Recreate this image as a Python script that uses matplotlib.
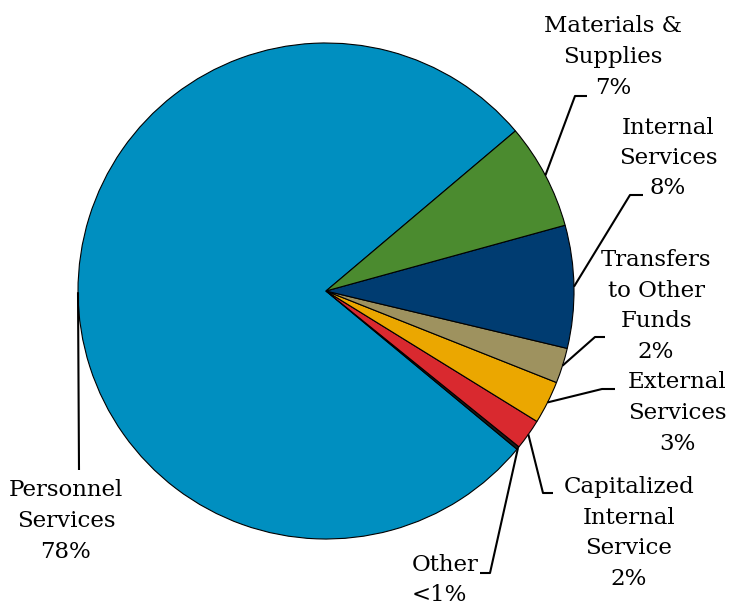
import numpy as np
import matplotlib.pyplot as plt

categories = ['Personnel\nServices', 'Other', 'Capitalized\nInternal\nService',
              'External\nServices', 'Transfers\nto Other\nFunds', 'Internal\nServices',
              'Materials &\nSupplies']
shares = [77.9, 0.2, 2.0, 2.8, 2.3, 8.0, 6.9]
colors = ['#008FC0', '#1A1A1A', '#D9292F', '#EBA700', '#9E925F', '#003C71', '#4B8B2F']

# label block centre, elbow of the leader line, end of the leader line
label_xy = [(66, 84), (412, 25), (629, 72), (677, 192), (656, 299), (668, 447), (613, 548)]
elbow_xy = [(79, 135), (490, 32), (543, 112), (602, 216), (595, 268), (630, 410), (575, 509)]
end_xy = [(79, 135), (480, 32), (553, 112), (615, 216), (605, 268), (643, 410), (587, 509)]


def pct_text(v):
    return '<1%' if v < 1 else f'{round(v)}%'


fig = plt.figure(figsize=(7.47, 6.05), dpi=100)
ax = fig.add_axes([0, 0, 1, 1])

cx, cy, r = 326, 314, 248
wedges, _ = ax.pie(shares, colors=colors, startangle=40.2, center=(cx, cy), radius=r,
                   wedgeprops=dict(edgecolor='black', linewidth=0.8), frame=True)
ax.set_xlim(0, 747)
ax.set_ylim(0, 605)
ax.set_aspect('equal')
ax.axis('off')

for i, w in enumerate(wedges):
    mid = np.deg2rad((w.theta1 + w.theta2) / 2)
    sx, sy = cx + r * np.cos(mid), cy + r * np.sin(mid)
    ex, ey = elbow_xy[i]
    fx, fy = end_xy[i]
    ax.plot([sx, ex, fx], [sy, ey, fy], color='black', lw=1.5, solid_capstyle='butt')

    text = categories[i] + '\n' + pct_text(shares[i])
    align = 'left' if categories[i] == 'Other' else 'center'
    ax.text(label_xy[i][0], label_xy[i][1], text, ha=align, va='center',
            family='DejaVu Serif', fontsize=16.5, linespacing=1.5, multialignment=align)

fig.savefig('out.png', dpi=100)
